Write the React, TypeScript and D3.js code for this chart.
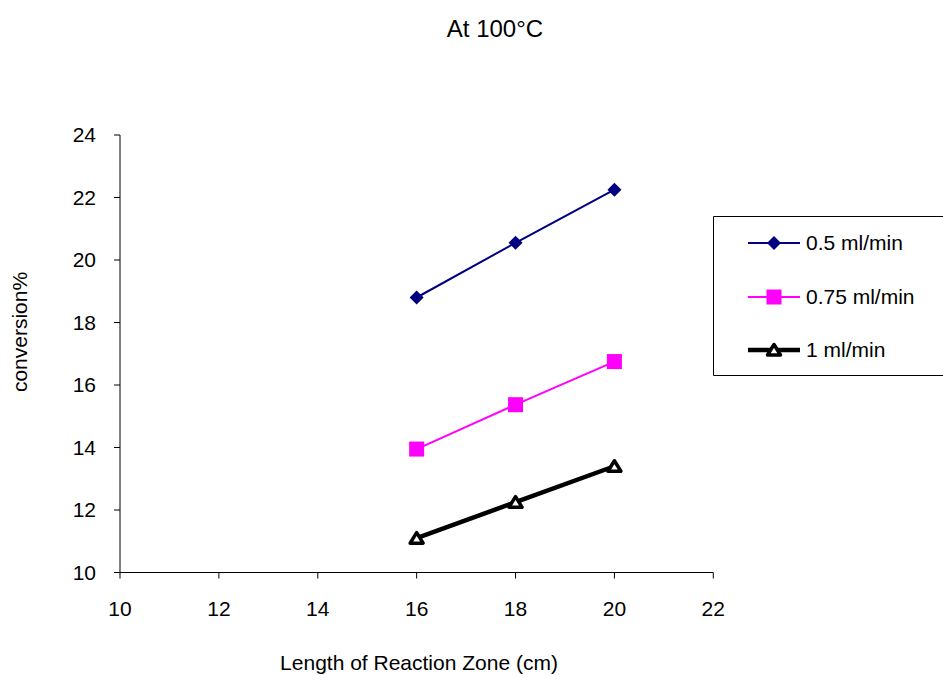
import React from "react";
import * as d3 from "d3";

const xValues = [16, 18, 20];
const series05 = [18.8, 20.55, 22.25];
const series075 = [13.95, 15.37, 16.75];
const series1 = [11.1, 12.25, 13.4];
const seriesNames = ["0.5 ml/min", "0.75 ml/min", "1 ml/min"];
const xTicks = [10, 12, 14, 16, 18, 20, 22];
const yTicks = [10, 12, 14, 16, 18, 20, 22, 24];

const W = 943;
const H = 675;
const FONT = "Liberation Sans, Arial, sans-serif";
const FS = 21;

const x = d3.scaleLinear().domain([10, 22]).range([120, 713.3]);
const y = d3.scaleLinear().domain([10, 24]).range([572.5, 135]);

const seriesList = [
  { name: seriesNames[0], values: series05, color: "#000080", width: 2, marker: "diamond" },
  { name: seriesNames[1], values: series075, color: "#FF00FF", width: 2, marker: "square" },
  { name: seriesNames[2], values: series1, color: "#000000", width: 4.5, marker: "triangle" },
];

function Marker({ type, cx, cy, color }: { type: string; cx: number; cy: number; color: string }) {
  if (type === "diamond") {
    const s = 7;
    return (
      <path
        d={`M${cx},${cy - s}L${cx + s},${cy}L${cx},${cy + s}L${cx - s},${cy}Z`}
        fill={color}
      />
    );
  }
  if (type === "square") {
    const s = 7.5;
    return <rect x={cx - s} y={cy - s} width={2 * s} height={2 * s} fill={color} />;
  }
  return (
    <path
      d={`M${cx},${cy - 5.5}L${cx + 6.5},${cy + 5}L${cx - 6.5},${cy + 5}Z`}
      fill="#fff"
      stroke={color}
      strokeWidth={3.5}
      strokeLinejoin="round"
    />
  );
}

export default function App() {
  const line = d3
    .line<[number, number]>()
    .x((d) => x(d[0]))
    .y((d) => y(d[1]));

  const legendY = [243, 297, 350];

  return (
    <svg
      width={W}
      height={H}
      style={{ position: "absolute", left: 0, top: 0, background: "#fff" }}
      fontFamily={FONT}
    >
      <rect width={W} height={H} fill="#fff" />
      <text x={495} y={37} textAnchor="middle" fontSize={24} fill="#000">
        At 100°C
      </text>

      {/* axes */}
      <line x1={x(10)} x2={x(22)} y1={y(10)} y2={y(10)} stroke="#000" strokeWidth={1} />
      <line x1={x(10)} x2={x(10)} y1={y(10)} y2={y(24)} stroke="#000" strokeWidth={1} />
      {xTicks.map((t) => (
        <g key={"x" + t}>
          <line x1={x(t)} x2={x(t)} y1={y(10)} y2={y(10) + 6} stroke="#000" />
          <text x={x(t)} y={y(10) + 43} textAnchor="middle" fontSize={FS} fill="#000">
            {t}
          </text>
        </g>
      ))}
      {yTicks.map((t) => (
        <g key={"y" + t}>
          <line x1={x(10) - 6} x2={x(10)} y1={y(t)} y2={y(t)} stroke="#000" />
          <text x={x(10) - 24} y={y(t) + 7} textAnchor="end" fontSize={FS} fill="#000">
            {t}
          </text>
        </g>
      ))}

      <text x={419} y={670} textAnchor="middle" fontSize={FS} fill="#000">
        Length of Reaction Zone (cm)
      </text>
      <text
        transform={`translate(27,332) rotate(-90)`}
        textAnchor="middle"
        fontSize={FS}
        fill="#000"
      >
        conversion%
      </text>

      {/* series */}
      {seriesList.map((s) => {
        const pts: [number, number][] = xValues.map((xv, i) => [xv, s.values[i]]);
        return (
          <g key={s.name}>
            <path d={line(pts) || ""} fill="none" stroke={s.color} strokeWidth={s.width} />
            {pts.map((p, i) => (
              <Marker key={i} type={s.marker} cx={x(p[0])} cy={y(p[1])} color={s.color} />
            ))}
          </g>
        );
      })}

      {/* legend */}
      <path d="M950,216.5H713.5V375.5H950" fill="none" stroke="#000" strokeWidth={1} />
      {seriesList.map((s, i) => (
        <g key={"lg" + i}>
          <line x1={748} x2={800} y1={legendY[i]} y2={legendY[i]} stroke={s.color} strokeWidth={s.width} />
          <Marker type={s.marker} cx={774} cy={legendY[i]} color={s.color} />
          <text x={806} y={legendY[i] + 7} fontSize={FS} fill="#000">
            {s.name}
          </text>
        </g>
      ))}
    </svg>
  );
}
